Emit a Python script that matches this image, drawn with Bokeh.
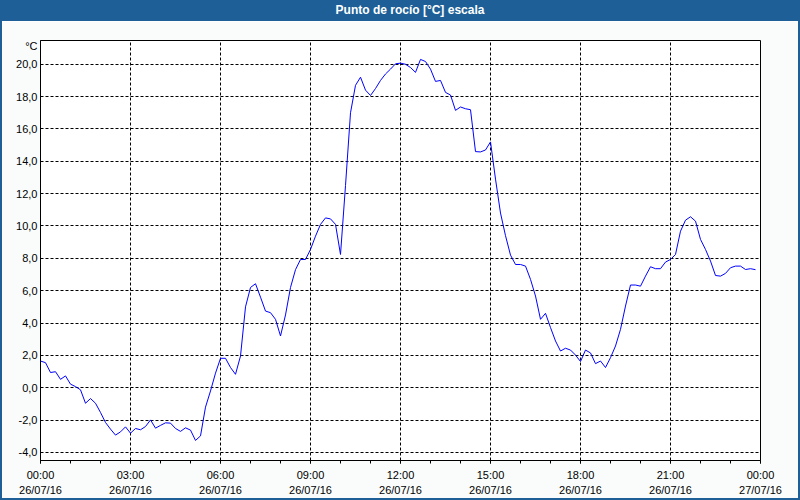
import pandas as pd
from bokeh.plotting import figure
from bokeh.models import Range1d, FixedTicker, Div
from bokeh.layouts import column, row
from bokeh.embed import file_html
from bokeh.resources import INLINE

title_text = "Punto de rocío [°C] escala"
unit_label = "°C"
start_time = "2016-07-26 00:00"
end_time = "2016-07-27 00:00"
sample_step = "10min"

dew_point = [
    1.65, 1.55, 0.94, 0.99, 0.52, 0.73, 0.22, 0.07, -0.13, -0.96,
    -0.67, -0.96, -1.53, -2.15, -2.56, -2.93, -2.73, -2.42, -2.81, -2.52,
    -2.60, -2.40, -1.99, -2.50, -2.33, -2.17, -2.19, -2.52, -2.70, -2.48,
    -2.62, -3.26, -2.98, -1.20, -0.20, 0.90, 1.82, 1.82, 1.25, 0.83,
    1.96, 5.00, 6.20, 6.43, 5.60, 4.74, 4.64, 4.23, 3.20, 4.50,
    6.20, 7.30, 7.93, 7.93, 8.55, 9.37, 10.10, 10.50, 10.44, 10.10,
    8.24, 12.50, 17.00, 18.70, 19.20, 18.40, 18.07, 18.50, 19.00, 19.40,
    19.70, 20.03, 20.07, 20.00, 19.80, 19.50, 20.30, 20.17, 19.70, 18.94,
    19.00, 18.26, 18.10, 17.15, 17.36, 17.25, 17.19, 14.60, 14.58, 14.70,
    15.20, 12.90, 10.80, 9.40, 8.20, 7.62, 7.62, 7.52, 6.70, 5.67,
    4.23, 4.60, 3.72, 2.89, 2.27, 2.44, 2.33, 2.02, 1.62, 2.33,
    2.15, 1.49, 1.65, 1.25, 1.86, 2.58, 3.61, 5.05, 6.35, 6.35,
    6.28, 6.90, 7.48, 7.36, 7.36, 7.77, 7.93, 8.24, 9.68, 10.36,
    10.57, 10.30, 9.17, 8.55, 7.83, 6.94, 6.90, 7.07, 7.42, 7.52,
    7.52, 7.31, 7.36, 7.30,
]

x_tick_times = [
    "2016-07-26 00:00", "2016-07-26 03:00", "2016-07-26 06:00",
    "2016-07-26 09:00", "2016-07-26 12:00", "2016-07-26 15:00",
    "2016-07-26 18:00", "2016-07-26 21:00", "2016-07-27 00:00",
]
x_tick_labels = [
    "00:00\n26/07/16", "03:00\n26/07/16", "06:00\n26/07/16",
    "09:00\n26/07/16", "12:00\n26/07/16", "15:00\n26/07/16",
    "18:00\n26/07/16", "21:00\n26/07/16", "00:00\n27/07/16",
]
y_tick_values = [-4, -2, 0, 2, 4, 6, 8, 10, 12, 14, 16, 18, 20]
y_tick_labels = ["-4,0", "-2,0", "0,0", "2,0", "4,0", "6,0", "8,0",
                 "10,0", "12,0", "14,0", "16,0", "18,0", "20,0"]
unit_label_value = 21.1   # where the unit text sits on the value axis


def ms(t):
    return float(pd.Timestamp(t).value // 10**6)


times = pd.date_range(start_time, periods=len(dew_point), freq=sample_step)
major_ms = [ms(t) for t in x_tick_times]
minor_ms = [ms(t) for t in pd.date_range(start_time, end_time, freq="1h")]

FONT = "Liberation Sans"
BLUE = "#1e5f97"

p = figure(
    width=796, height=477,
    x_axis_type="datetime",
    x_range=Range1d(ms(start_time), ms(end_time)),
    y_range=Range1d(-4.5, 21.47),
    output_backend="svg", toolbar_location=None,
    min_border_left=38, min_border_right=38,
    min_border_top=19, min_border_bottom=38,
    background_fill_color="white", border_fill_color="#fafcfc",
)
p.outline_line_color = "black"
p.outline_line_width = 1

p.line(times, dew_point, line_color="#0000ff", line_width=1)

xt = FixedTicker(ticks=major_ms, minor_ticks=minor_ms)
p.xaxis.ticker = xt
p.xaxis.major_label_overrides = dict(zip(major_ms, x_tick_labels))
p.xaxis.major_tick_out = 3
p.xaxis.major_tick_in = 0
p.xaxis.minor_tick_out = 3
p.xaxis.minor_tick_in = 0
p.xaxis.major_label_standoff = 5
p.xaxis.major_label_text_line_height = 1.25

y_axis_ticks = y_tick_values + [unit_label_value]
y_axis_labels = y_tick_labels + [unit_label]
p.yaxis.ticker = FixedTicker(ticks=y_axis_ticks)
p.yaxis.major_label_overrides = dict(zip(y_axis_ticks, y_axis_labels))
p.yaxis.major_tick_out = 0
p.yaxis.major_tick_in = 0
p.yaxis.minor_tick_out = 0
p.yaxis.minor_tick_in = 0
p.yaxis.major_label_standoff = 3

for ax in (p.xaxis, p.yaxis):
    ax.axis_line_color = "black"
    ax.major_tick_line_color = "black"
    ax.minor_tick_line_color = "black"
    ax.major_label_text_font = FONT
    ax.major_label_text_font_size = "11px"
    ax.major_label_text_color = "black"

p.xgrid.ticker = FixedTicker(ticks=major_ms)
p.ygrid.ticker = FixedTicker(ticks=y_tick_values)
for g in (p.xgrid, p.ygrid):
    g.grid_line_color = "black"
    g.grid_line_dash = "3 2"
    g.grid_line_width = 1

title_div = Div(
    text=(f'<div style="width:800px;height:21px;background:{BLUE};color:white;'
          f'font-family:\'{FONT}\';font-weight:bold;font-size:12px;'
          f'box-sizing:border-box;padding-left:20px;'
          f'text-align:center;line-height:21px;">{title_text}</div>'),
    width=800, height=21, margin=0,
)
left_edge = Div(text="", width=2, height=477, margin=0,
                styles={"background-color": BLUE})
right_edge = Div(text="", width=2, height=477, margin=0,
                 styles={"background-color": BLUE})
bottom_edge = Div(text="", width=800, height=2, margin=0,
                  styles={"background-color": BLUE})

layout = column(title_div, row(left_edge, p, right_edge, spacing=0),
                bottom_edge, spacing=0)

open("out.html", "w").write(file_html(layout, INLINE))
